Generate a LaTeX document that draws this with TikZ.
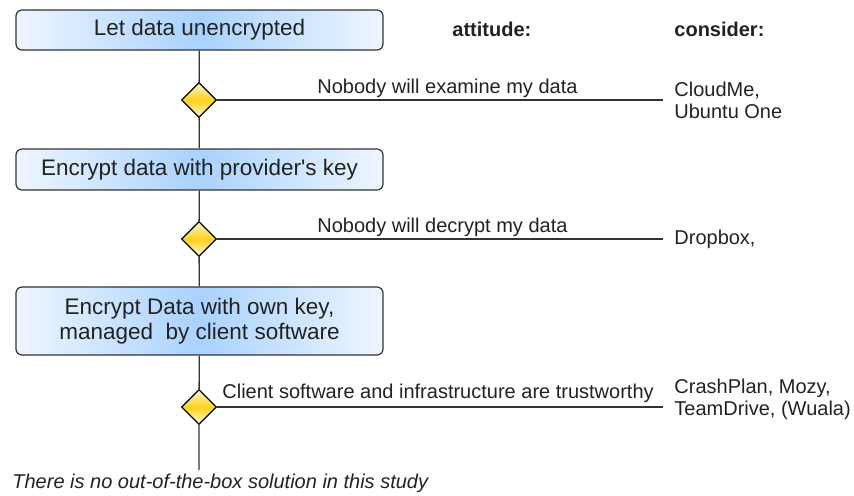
\documentclass[tikz,border=0pt]{standalone}
\usepackage{fontspec}
\setmainfont{Liberation Sans}
\usetikzlibrary{shapes.geometric}
\definecolor{boxside}{HTML}{EEF6FF}
\definecolor{boxmid}{HTML}{A9D2FF}
\definecolor{decside}{HTML}{FFF7D6}
\definecolor{decmid}{HTML}{FFD21C}
\definecolor{linegray}{HTML}{333333}
\definecolor{textgray}{HTML}{222222}

\begin{document}
\begin{tikzpicture}[x=0.5pt, y=-0.5pt, every node/.style={font=\fontsize{10}{11}\selectfont, text=textgray},
  stepbox/.style={draw=linegray, line width=0.6pt, rounded corners=3pt, align=center, minimum width=183.5pt, left color=boxside, right color=boxside, middle color=boxmid, font=\fontsize{11.25}{12.5}\selectfont},
  decision/.style={diamond, draw=black, line width=0.6pt, inner sep=0pt, minimum width=17.5pt, minimum height=17.5pt, top color=decside, bottom color=decside, middle color=decmid},
  plaintext/.style={inner sep=0pt, anchor=base west, align=left},
  link/.style={draw=linegray, line width=0.65pt}]
  \useasboundingbox (0,0) rectangle (854,495);
  \node[stepbox, minimum height=20pt] (plain) at (199.5,30) {Let data unencrypted};
  \node[decision] (trust1) at (199,100) {};
  \node[stepbox, minimum height=20.5pt] (providerkey) at (199.5,169.5) {Encrypt data with provider\textquotesingle s key};
  \node[decision] (trust2) at (199,239) {};
  \node[stepbox, minimum height=34pt] (ownkey) at (199.5,321) {Encrypt Data with own key,\\managed\ \ by client software};
  \node[decision] (trust3) at (199,407) {};
  \coordinate (bottom) at (199,470);
  \coordinate (end1) at (663,100);
  \coordinate (end2) at (663,239);
  \coordinate (end3) at (663,407);
  \draw[link] (plain) -- (trust1) -- (providerkey) -- (trust2) -- (ownkey) -- (trust3) -- (bottom);
  \draw[link] (trust1.east) -- (end1);
  \draw[link] (trust2.east) -- (end2);
  \draw[link] (trust3.east) -- (end3);
  % column heads
  \node[plaintext, font=\fontsize{10}{11}\selectfont\bfseries] (attitude) at (452,36) {attitude:};
  \node[plaintext, font=\fontsize{10}{11}\selectfont\bfseries] (consider) at (674,36) {consider:};
  % attitudes
  \node[plaintext] (att1) at (317,93) {Nobody will examine my data};
  \node[plaintext] (att2) at (317,232) {Nobody will decrypt my data};
  \node[plaintext] (att3) at (222,398) {Client software and infrastructure are trustworthy};
  % providers (base = last line)
  \node[plaintext] (cons1) at (674,118) {CloudMe,\\Ubuntu One};
  \node[plaintext] (cons2) at (674,244) {Dropbox,};
  \node[plaintext] (cons3) at (674,415) {CrashPlan, Mozy,\\TeamDrive, (Wuala)};
  \node[plaintext, font=\fontsize{10}{11}\selectfont\itshape] (nosolution) at (12,488) {There is no out-of-the-box solution in this study};
\end{tikzpicture}
\end{document}
